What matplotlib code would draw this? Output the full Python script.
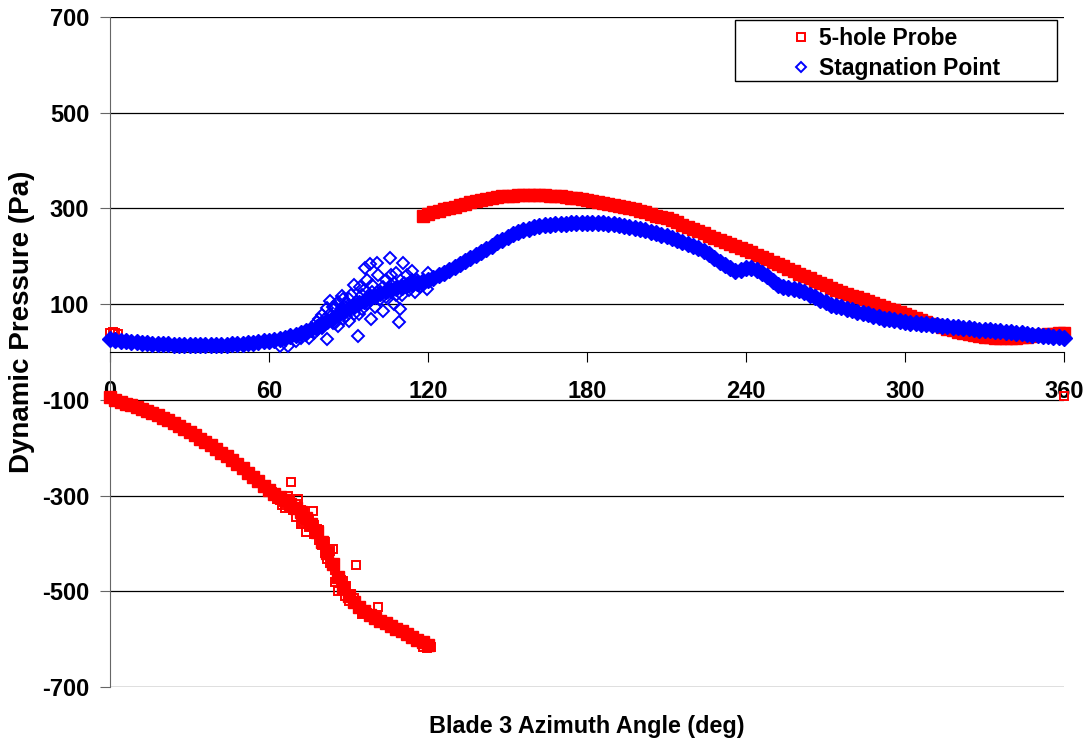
import matplotlib.pyplot as plt
from matplotlib.patches import Rectangle

plt.rcParams['font.family'] = ['Liberation Sans', 'DejaVu Sans']
plt.rcParams['font.weight'] = 'bold'
plt.rcParams['axes.unicode_minus'] = False

# 5-hole probe, band read every 2 deg (0..120 deg, negative branch)
probe_low_deg = list(range(0, 121, 2))
probe_low_pa = [-95, -100, -104, -108, -111, -115, -119, -124, -128, -132,
                -137, -142, -148, -154, -161, -167, -174, -181, -188, -195,
                -202, -210, -218, -226, -234, -243, -252, -261, -270, -279,
                -288, -296, -303, -310, -317, -325, -335, -346, -360, -377,
                -397, -420, -444, -470, -493, -510, -523, -533, -542, -549,
                -556, -562, -567, -572, -578, -583, -589, -595, -601, -607,
                -613]

# 5-hole probe, band read every 2 deg (118..360 deg)
probe_high_deg = list(range(118, 361, 2))
probe_high_pa = [285, 288, 292, 295, 298, 301, 304, 307, 310, 313,
                 316, 318, 320, 322, 324, 325, 326, 327, 328, 329,
                 329, 329, 329, 328, 327, 326, 325, 324, 322, 321,
                 319, 317, 316, 314, 312, 310, 308, 306, 303, 301,
                 298, 295, 292, 288, 285, 282, 279, 275, 271, 266,
                 261, 257, 252, 248, 243, 239, 234, 230, 226, 221,
                 217, 213, 208, 203, 199, 194, 189, 184, 179, 174,
                 169, 164, 159, 154, 149, 144, 139, 134, 130, 126,
                 122, 118, 114, 110, 106, 102, 98, 94, 90, 87,
                 83, 79, 75, 71, 67, 63, 59, 56, 52, 48,
                 45, 42, 40, 38, 36, 34, 32, 31, 30, 30,
                 29, 29, 30, 31, 32, 34, 35, 36, 37, 38,
                 39, 40]

# 5-hole probe, loose points
probe_pts_deg = [0, 1, 2, 3, 360, 61, 62, 63, 64, 65, 66, 66, 67, 68.3, 69,
                 70, 70, 71, 72, 72, 73, 73, 74, 75, 75, 76.5, 77, 77, 78, 79,
                 79, 80, 81, 81, 82, 83, 83, 84, 85, 85, 86, 87, 88, 88.5, 89,
                 90, 91, 92, 93, 95, 97, 101, 118, 119.5, 121]
probe_pts_pa = [40, 42, 40, 38, -91, -292, -300, -308, -310, -320, -325,
                -315, -300, -272, -330, -318, -345, -308, -330, -360, -356,
                -340, -376, -352, -365, -332, -362, -380, -370, -392, -372,
                -404, -398, -420, -432, -440, -415, -412, -456, -480, -500,
                -476, -478, -510, -488, -520, -505, -515, -445, -548, -545,
                -532, -616, -618, -617]

# stagnation point, band read every 2 deg (0..360 deg)
stag_deg = list(range(0, 361, 2))
stag_pa = [27, 25, 23, 22, 21, 20, 19, 18, 17, 17,
           16, 16, 15, 15, 14, 14, 14, 14, 14, 14,
           14, 15, 15, 16, 16, 17, 18, 19, 20, 22,
           24, 26, 28, 30, 33, 36, 40, 44, 48, 53,
           58, 64, 71, 78, 85, 91, 97, 102, 107, 113,
           118, 123, 127, 130, 133, 136, 139, 142, 145, 148,
           151, 155, 160, 166, 172, 178, 184, 190, 196, 202,
           208, 215, 222, 229, 235, 241, 246, 250, 254, 258,
           261, 263, 265, 266, 267, 268, 268, 269, 269, 270,
           270, 270, 270, 269, 268, 267, 266, 264, 262, 260,
           257, 254, 251, 248, 245, 242, 238, 234, 229, 225,
           221, 217, 211, 204, 197, 189, 182, 175, 169, 172,
           176, 175, 171, 165, 158, 149, 141, 136, 134, 132,
           129, 125, 120, 114, 109, 104, 99, 96, 93, 90,
           87, 84, 82, 79, 76, 73, 70, 68, 66, 64,
           63, 61, 60, 59, 58, 57, 56, 55, 54, 53,
           52, 51, 50, 48, 47, 46, 45, 44, 43, 42,
           41, 40, 39, 38, 36, 35, 34, 33, 32, 31,
           30]

# stagnation point, loose points in the scattered zone
stag_pts_deg = [64, 67, 70, 72, 74, 75, 76, 77, 78, 79, 80, 80, 81.7, 82,
                83, 84, 84, 85, 86, 86, 87.4, 88, 89, 90, 90, 91, 92, 92,
                93.6, 94.3, 95, 95, 96.4, 97, 98.3, 98.5, 99, 100, 100.7,
                101, 102, 103, 104, 104, 105.7, 106, 107, 108, 108, 109.2,
                109.6, 110.7, 111, 112, 113, 114, 115, 116, 118, 119.5, 120,
                78, 81, 83, 85, 87, 88, 89, 91, 93, 94, 96, 97, 99, 101,
                103, 105, 106, 107, 110, 112, 114, 117]
stag_pts_pa = [13, 13, 22, 30, 36, 30, 45, 40, 62, 68, 78, 50, 27, 92,
               107, 60, 95, 95, 55, 105, 117, 70, 100, 65, 110, 120, 80, 140,
               34, 135, 90, 120, 175, 150, 183, 68, 125, 95, 185,
               160, 110, 86, 150, 115, 196, 140, 100, 165, 120, 63,
               90, 185, 145, 160, 130, 170, 125, 150, 140, 131, 165,
               45, 70, 80, 60, 90, 110, 75, 95, 105, 80, 130, 100, 140, 120,
               135, 125, 160, 145, 120, 140, 150, 135]

red = '#ff0000'
blue = '#0000ff'

fig = plt.figure(figsize=(10.89, 7.42), dpi=100)
ax = fig.add_axes([110 / 1089, 1 - 687 / 742, 954 / 1089, 670 / 742])

ax.plot(probe_low_deg, probe_low_pa, 's', ms=8.5, color=red, mec=red, mew=1, clip_on=False, zorder=3)
ax.plot(probe_high_deg, probe_high_pa, 's', ms=8.5, color=red, mec=red, mew=1, clip_on=False, zorder=3)
ax.plot(probe_pts_deg, probe_pts_pa, 's', ms=6.3, mfc='none', mec=red, mew=1.4, clip_on=False, zorder=3,
        label='5-hole Probe')
ax.plot(stag_deg, stag_pa, 'D', ms=8, color=blue, mec=blue, mew=1, clip_on=False, zorder=4)
ax.plot(stag_pts_deg, stag_pts_pa, 'D', ms=6, mfc='none', mec=blue, mew=1.4, clip_on=False, zorder=4,
        label='Stagnation Point')

ax.set_xlim(0, 360)
ax.set_ylim(-700, 700)
ax.set_xticks(range(0, 361, 60))
ax.set_yticks(range(-700, 701, 200))
ax.yaxis.grid(True, color='black', lw=0.9)
ax.set_axisbelow(True)

ax.spines['top'].set_visible(False)
ax.spines['right'].set_visible(False)
ax.spines['left'].set_color('0.4')
ax.spines['bottom'].set_position(('data', 0))
ax.spines['bottom'].set_color('black')
ax.tick_params(axis='y', length=7, color='0.4', labelsize=17, pad=8)
ax.tick_params(axis='x', length=7, color='black', labelsize=17, pad=13)

fig.text(587 / 1089, 1 - 727 / 742, 'Blade 3 Azimuth Angle (deg)', ha='center', va='center',
         fontsize=16.8, fontweight='bold')
fig.text(22 / 1089, 1 - 322 / 742, 'Dynamic Pressure (Pa)', ha='center', va='center',
         rotation=90, fontsize=20, fontweight='bold')

# legend box
ax.add_patch(Rectangle((735 / 1089, 1 - 81 / 742), 322 / 1089, 61 / 742, transform=fig.transFigure,
                       clip_on=False, fc='white', ec='black', lw=1, zorder=5))
leg = ax.legend(loc='upper left', bbox_to_anchor=(778 / 1089, 1 - 16 / 742), bbox_transform=fig.transFigure,
                frameon=False, fontsize=16.5, handlelength=1.0, handletextpad=0.3, borderpad=0,
                labelspacing=0.3, markerscale=0.85)
leg.set_zorder(6)

fig.savefig('out.png', dpi=100)
